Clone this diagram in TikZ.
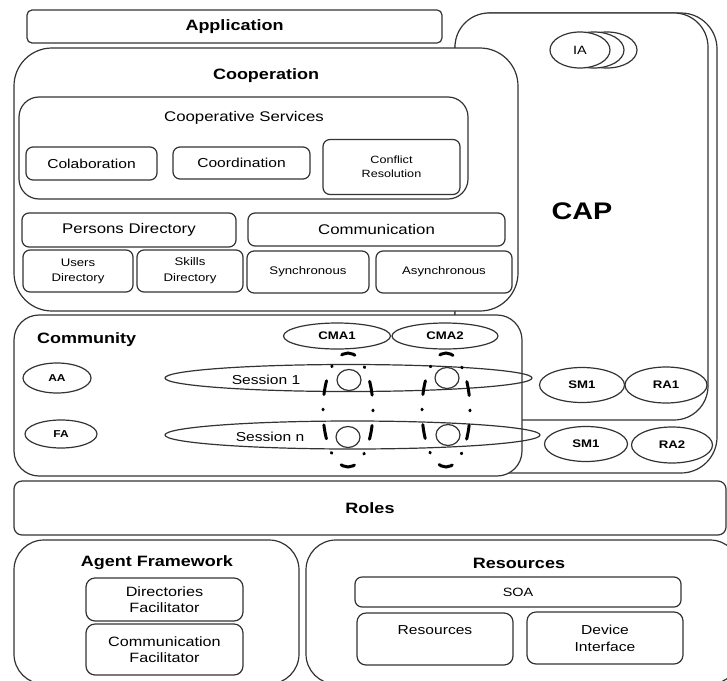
\documentclass[tikz,border=0pt]{standalone}
\usepackage{fontspec}
\setmainfont{Liberation Sans}[FakeStretch=1.2]
\usetikzlibrary{shapes.geometric}
\newcommand{\fs}[1]{\fontsize{#1}{#1}\selectfont}
\tikzset{
  ln/.style={draw=black!80, line width=1.2pt},
  rbox/.style={ln, fill=white, rectangle, inner sep=0pt, align=center, rounded corners=#1},
  rbox/.default=7pt,
  ell/.style={ln, fill=white, ellipse, inner sep=0pt, align=center},
  oell/.style={ln, ellipse, inner sep=0pt, align=center},
  ttl/.style={inner sep=0pt, font=\bfseries\fs{15}},
  dashell/.style={draw=black, line width=3pt, line cap=round},
}
\begin{document}
\begin{tikzpicture}[x=1pt,y=-1pt]
\useasboundingbox (0,0) rectangle (727,680);
\clip (0,0) rectangle (727,680);
% CAP
\node[rbox=36pt, minimum width=262pt, minimum height=460pt] (capback) at (586,243) {};
\node[rbox=34pt, minimum width=253pt, minimum height=407pt] (capfront) at (581.5,216.5) {};
\node[font=\bfseries\fs{24}, inner sep=0pt] (cap) at (582,211) {CAP};
\node[ell, minimum width=60pt, minimum height=36pt] (ia3) at (607,50) {};
\node[ell, minimum width=60pt, minimum height=36pt] (ia2) at (594,50) {};
\node[ell, minimum width=60pt, minimum height=36pt, font=\fs{12}] (ia) at (580,50) {IA};
\node[ell, minimum width=85pt, minimum height=35pt, font=\bfseries\fs{11}] (sm1) at (582,385) {SM1};
\node[ell, minimum width=82pt, minimum height=36pt, font=\bfseries\fs{11}] (ra1) at (666,385) {RA1};
\node[ell, minimum width=83pt, minimum height=35pt, font=\bfseries\fs{11}] (sm2) at (586,444) {SM1};
\node[ell, minimum width=81pt, minimum height=36pt, font=\bfseries\fs{11}] (ra2) at (672,445) {RA2};
% Application
\node[rbox=5pt, minimum width=415pt, minimum height=33pt, font=\bfseries\fs{15}] (app) at (234.5,26.5) {Application};
% Cooperation
\node[rbox=38pt, minimum width=504pt, minimum height=263pt] (coop) at (266,179.5) {};
\node[ttl] (coopt) at (266,76) {Cooperation};
\node[rbox=20pt, minimum width=449pt, minimum height=102pt] (cs) at (243.5,148) {};
\node[inner sep=0pt, font=\fs{14}] (cst) at (244,118) {Cooperative Services};
\node[rbox, minimum width=131pt, minimum height=33pt, font=\fs{13}] (colab) at (91.5,163.5) {Colaboration};
\node[rbox, minimum width=137pt, minimum height=32pt, font=\fs{13}] (coord) at (241.5,163) {Coordination};
\node[rbox, minimum width=137pt, minimum height=55pt, font=\fontsize{10.5}{14}\selectfont] (confl) at (391.5,167) {Conflict\\Resolution};
\node[rbox, minimum width=214pt, minimum height=34pt, font=\fs{14}] (pers) at (129,230) {Persons Directory};
\node[rbox, minimum width=257pt, minimum height=33pt, font=\fs{14}] (comm) at (376.5,229.5) {Communication};
\node[rbox, minimum width=110pt, minimum height=42pt, font=\fontsize{11}{15}\selectfont] (users) at (78,271) {Users\\Directory};
\node[rbox, minimum width=106pt, minimum height=42pt, font=\fontsize{11}{16}\selectfont] (skills) at (190,271) {Skills\\Directory};
\node[rbox, minimum width=122pt, minimum height=42pt, font=\fs{11}] (sync) at (308,272) {Synchronous};
\node[rbox, minimum width=136pt, minimum height=42pt, font=\fs{11}] (async) at (444,272) {Asynchronous};
% Community
\node[rbox=25pt, minimum width=508pt, minimum height=161pt] (commu) at (268,395.5) {};
\node[ttl, anchor=west] (commut) at (37,340) {Community};
\node[oell, minimum width=107pt, minimum height=26pt, font=\bfseries\fs{11}] (cma1) at (337,336) {CMA1};
\node[oell, minimum width=106pt, minimum height=26pt, font=\bfseries\fs{11}] (cma2) at (445,336) {CMA2};
\node[oell, minimum width=68pt, minimum height=30pt, font=\bfseries\fs{10}] (aa) at (57,378) {AA};
\node[oell, minimum width=72pt, minimum height=28pt, font=\bfseries\fs{10}] (fa) at (61,434) {FA};
\node[oell, minimum width=367pt, minimum height=27pt] (s1) at (348.5,378) {};
\node[inner sep=0pt, font=\fs{13}] (s1t) at (266,380) {Session 1};
\node[oell, minimum width=375pt, minimum height=28pt] (sn) at (352.5,435) {};
\node[inner sep=0pt, font=\fs{13}] (snt) at (270,437) {Session n};
\node[oell, minimum width=24pt, minimum height=21pt] (c1) at (349,380) {};
\node[oell, minimum width=24pt, minimum height=21pt] (c2) at (447,378) {};
\node[oell, minimum width=24pt, minimum height=21pt] (c3) at (348,437) {};
\node[oell, minimum width=24pt, minimum height=21pt] (c4) at (448,435) {};
\draw[dashell, dash pattern=on 0.8pt off 14.7pt on 14pt off 15.08pt] (348,410) ellipse [x radius=25, y radius=57];
\draw[dashell, dash pattern=on 0.8pt off 14.6pt on 14pt off 14.79pt] (446,410) ellipse [x radius=24, y radius=57];
% Roles
\node[rbox=8pt, minimum width=712pt, minimum height=54pt, font=\bfseries\fs{15}] (roles) at (370,508) {Roles};
% Agent Framework
\node[rbox=30pt, minimum width=285pt, minimum height=144pt] (afw) at (156.5,612) {};
\node[ttl] (afwt) at (157,563) {Agent Framework};
\node[rbox=9pt, minimum width=157pt, minimum height=43pt, font=\fontsize{13.5}{16}\selectfont] (dirf) at (164.5,599.5) {Directories\\Facilitator};
\node[rbox=9pt, minimum width=157pt, minimum height=51pt, font=\fontsize{13.5}{16}\selectfont] (commf) at (164.5,649.5) {Communication\\Facilitator};
% Resources
\node[rbox=30pt, minimum width=434pt, minimum height=144pt] (res) at (523,612) {};
\node[ttl] (rest) at (519,563) {Resources};
\node[rbox=7pt, minimum width=326pt, minimum height=30pt, font=\fs{12}] (soa) at (518,592) {SOA};
\node[rbox=9pt, minimum width=156pt, minimum height=52pt] (resi) at (435,639) {};
\node[inner sep=0pt, font=\fs{13}] (resit) at (435,630) {Resources};
\node[rbox=9pt, minimum width=156pt, minimum height=52pt, font=\fontsize{13}{17}\selectfont] (devi) at (605,638) {Device\\Interface};
\end{tikzpicture}
\end{document}
